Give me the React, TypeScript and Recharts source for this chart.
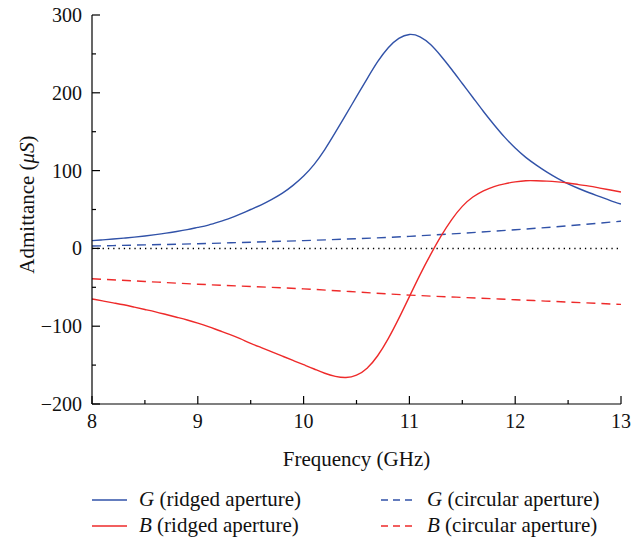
import React from 'react';
import { LineChart, Line, XAxis, YAxis, ReferenceLine, Label } from 'recharts';

// ---- data ----
const freqRidged = [
  8.0, 8.1, 8.2, 8.3, 8.4, 8.5, 8.6, 8.7, 8.8, 8.9,
  9.0, 9.1, 9.2, 9.3, 9.4, 9.5, 9.6, 9.7, 9.8, 9.9,
  10.0, 10.1, 10.2, 10.3, 10.4, 10.5, 10.6, 10.7, 10.8, 10.9,
  11.0, 11.1, 11.2, 11.3, 11.4, 11.5, 11.6, 11.7, 11.8, 11.9,
  12.0, 12.1, 12.2, 12.3, 12.4, 12.5, 12.6, 12.7, 12.8, 12.9, 13.0,
];
const gRidged = [
  10, 11, 12, 13.2, 14.5, 16, 17.7, 19.6, 21.8, 24.2,
  27, 30, 34, 38.5, 44, 50, 56, 63, 71, 81,
  93, 108, 127, 149, 172, 195, 218, 240, 258, 270,
  275, 272, 262, 247, 230, 212, 194, 176, 159, 143,
  129, 117, 107, 98, 90, 83, 77, 71.5, 66.5, 61.5, 57,
];
const bRidged = [
  -65, -67.5, -70, -72.5, -75.5, -78.5, -81.5, -85, -88.5, -92,
  -96, -100.5, -105.5, -110.5, -116, -122, -127.5, -133, -138.5, -144,
  -149.5, -155, -160.5, -164.5, -166, -163, -154, -138, -116, -90,
  -62, -34, -8, 16, 37, 54, 66, 74, 79.5, 83,
  85.5, 87, 87, 86.5, 85.5, 84, 82, 80, 77.5, 75, 72.5,
];
const freqCircular = [8, 8.5, 9, 9.5, 10, 10.5, 11, 11.5, 12, 12.5, 13];
const gCircular = [3, 4.5, 6, 8, 10, 12.5, 15.5, 19.5, 24, 29, 35];
const bCircular = [-39, -42.5, -46, -49, -52, -56, -60, -63, -66, -69, -72];

const xTicks = [8, 8.5, 9, 9.5, 10, 10.5, 11, 11.5, 12, 12.5, 13];
const yTicks = [-200, -150, -100, -50, 0, 50, 100, 150, 200, 250, 300];

const BLUE = '#3152a8';
const RED = '#ee2a2a';
const FONT = '"Liberation Serif", "Times New Roman", serif';
const FS = 20;
const FS_TITLE = 21;

const toSeries = (fs: number[], vs: number[]) => fs.map((f, i) => ({ f, v: vs[i] }));
const gRidgedData = toSeries(freqRidged, gRidged);
const bRidgedData = toSeries(freqRidged, bRidged);
const gCircularData = toSeries(freqCircular, gCircular);
const bCircularData = toSeries(freqCircular, bCircular);

const legendItems = [
  { sym: 'G', text: ' (ridged aperture)', color: BLUE, dashed: false },
  { sym: 'B', text: ' (ridged aperture)', color: RED, dashed: false },
  { sym: 'G', text: ' (circular aperture)', color: BLUE, dashed: true },
  { sym: 'B', text: ' (circular aperture)', color: RED, dashed: true },
];

const fmt = (v: number) => (v < 0 ? '\u2212' + Math.abs(v) : String(v));

const BottomTick = (p: any) => {
  const major = Number.isInteger(p.payload.value);
  return (
    <g>
      <line x1={p.x} x2={p.x} y1={p.y} y2={p.y - (major ? 8 : 4)} stroke="#000" strokeWidth={1.2} />
      {major && (
        <text x={p.x} y={p.y + 24} textAnchor="middle" fontFamily={FONT} fontSize={FS} fill="#111">
          {fmt(p.payload.value)}
        </text>
      )}
    </g>
  );
};
const TopTick = (p: any) => {
  const major = Number.isInteger(p.payload.value);
  return <line x1={p.x} x2={p.x} y1={p.y} y2={p.y + (major ? 8 : 4)} stroke="#000" strokeWidth={1.2} />;
};
const LeftTick = (p: any) => {
  const major = p.payload.value % 100 === 0;
  return (
    <g>
      <line x1={p.x} x2={p.x + (major ? 8 : 4)} y1={p.y} y2={p.y} stroke="#000" strokeWidth={1.2} />
      {major && (
        <text x={p.x - 10} y={p.y + 7} textAnchor="end" fontFamily={FONT} fontSize={FS} fill="#111">
          {fmt(p.payload.value)}
        </text>
      )}
    </g>
  );
};
const RightTick = (p: any) => {
  const major = p.payload.value % 100 === 0;
  return <line x1={p.x} x2={p.x - (major ? 8 : 4)} y1={p.y} y2={p.y} stroke="#000" strokeWidth={1.2} />;
};

const YTitle = (p: any) => {
  const vb = p.viewBox || { x: 0, y: 0, width: 92, height: 389 };
  const cx = vb.x + 27;
  const cy = vb.y + vb.height / 2 - 5;
  return (
    <text x={cx} y={cy} transform={`rotate(-90 ${cx} ${cy})`} textAnchor="middle" dominantBaseline="central" fontFamily={FONT} fontSize={FS_TITLE} fill="#111">
      Admittance (<tspan fontStyle="italic">μS</tspan>)
    </text>
  );
};
const XTitle = (p: any) => {
  const vb = p.viewBox || { x: 92, y: 404, width: 529, height: 70 };
  return (
    <text x={vb.x + vb.width / 2} y={vb.y + 62} textAnchor="middle" fontFamily={FONT} fontSize={FS_TITLE} fill="#111">
      Frequency (GHz)
    </text>
  );
};

const axisLine = { stroke: '#000', strokeWidth: 1.2 };

export default function App() {
  const legendPos = [
    { lx: 92, tx: 139, y: 20 },
    { lx: 92, tx: 139, y: 46 },
    { lx: 381, tx: 427, y: 20 },
    { lx: 381, tx: 427, y: 46 },
  ];
  return (
    <div style={{ position: 'absolute', left: 0, top: 0, width: 644, height: 541, background: '#fff' }}>
      <LineChart width={644} height={541} margin={{ top: 15, right: 23, bottom: 67, left: 0 }}>
        <XAxis
          xAxisId="b"
          dataKey="f"
          type="number"
          domain={[8, 13]}
          ticks={xTicks}
          interval={0}
          allowDataOverflow
          height={70}
          axisLine={axisLine}
          tickLine={false}
          tickSize={0}
          tickMargin={0}
          tick={BottomTick}
          label={<Label content={XTitle} />}
        />
        <XAxis
          xAxisId="t"
          orientation="top"
          dataKey="f"
          type="number"
          domain={[8, 13]}
          ticks={xTicks}
          interval={0}
          allowDataOverflow
          height={0}
          axisLine={axisLine}
          tickLine={false}
          tickSize={0}
          tickMargin={0}
          tick={TopTick}
        />
        <YAxis
          yAxisId="l"
          type="number"
          domain={[-200, 300]}
          ticks={yTicks}
          interval={0}
          allowDataOverflow
          width={92}
          axisLine={axisLine}
          tickLine={false}
          tickSize={0}
          tickMargin={0}
          tick={LeftTick}
          label={<Label content={YTitle} />}
        />
        <YAxis
          yAxisId="r"
          orientation="right"
          type="number"
          domain={[-200, 300]}
          ticks={yTicks}
          interval={0}
          allowDataOverflow
          width={0}
          axisLine={axisLine}
          tickLine={false}
          tickSize={0}
          tickMargin={0}
          tick={RightTick}
        />
        <ReferenceLine xAxisId="b" yAxisId="l" y={0} stroke="#000" strokeWidth={1.5} strokeDasharray="1.3 4" />
        <Line xAxisId="b" yAxisId="l" data={gCircularData} dataKey="v" type="natural" stroke={BLUE} strokeWidth={1.4} strokeDasharray="9 6" dot={false} isAnimationActive={false} />
        <Line xAxisId="b" yAxisId="l" data={bCircularData} dataKey="v" type="natural" stroke={RED} strokeWidth={1.4} strokeDasharray="9 6" dot={false} isAnimationActive={false} />
        <Line xAxisId="b" yAxisId="l" data={gRidgedData} dataKey="v" type="natural" stroke={BLUE} strokeWidth={1.4} dot={false} isAnimationActive={false} />
        <Line xAxisId="b" yAxisId="l" data={bRidgedData} dataKey="v" type="natural" stroke={RED} strokeWidth={1.4} dot={false} isAnimationActive={false} />
      </LineChart>
      <svg width={644} height={70} style={{ position: 'absolute', left: 0, top: 480 }}>
        {legendItems.map((it, i) => {
          const p = legendPos[i];
          return (
            <g key={i}>
              <line x1={p.lx} x2={p.lx + 35} y1={p.y} y2={p.y} stroke={it.color} strokeWidth={1.4} strokeDasharray={it.dashed ? '7 5' : undefined} />
              <text x={p.tx} y={p.y + 6} fontFamily={FONT} fontSize={FS_TITLE} fill="#111">
                <tspan fontStyle="italic">{it.sym}</tspan>
                {it.text}
              </text>
            </g>
          );
        })}
      </svg>
    </div>
  );
}
